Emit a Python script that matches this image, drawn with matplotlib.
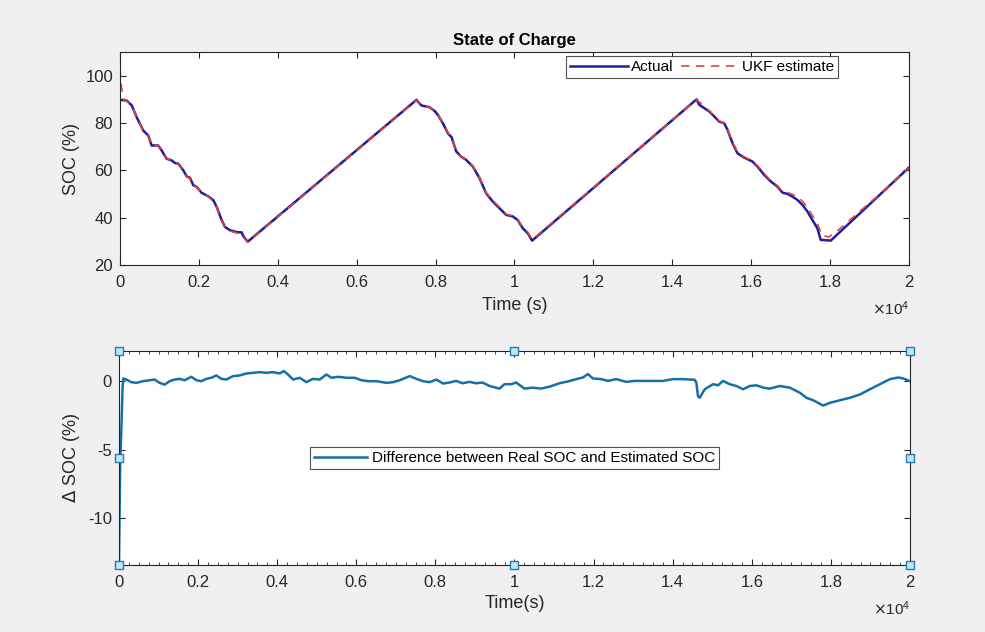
import numpy as np
import matplotlib.pyplot as plt
from matplotlib.ticker import FuncFormatter, MultipleLocator

# Actual SOC (time in s, SOC in %)
t_act = [0, 170, 300, 422, 591, 718, 803, 972, 1056, 1183, 1309, 1394, 1478, 1605, 1690,
         1774, 1859, 1943, 2070, 2239, 2366, 2450, 2577, 2661, 2788, 2957, 3084, 3126, 3236,
         7518, 7560, 7645, 7840, 7983, 8068, 8195, 8322, 8406, 8523, 8650, 8776, 8945, 9114,
         9283, 9451, 9620, 9789, 9958, 10084, 10211, 10338, 10447,
         14616, 14684, 14810, 14937, 15063, 15190, 15316, 15400, 15527, 15654, 15780, 15907,
         16034, 16160, 16329, 16498, 16667, 16793, 16920, 17046, 17173, 17300, 17426, 17553,
         17679, 17764, 18017, 20000]
soc_act = [89.8, 89.5, 87.4, 82.5, 76.8, 74.7, 70.5, 70.5, 68.4, 64.9, 64.2, 63.1, 62.8, 60.0, 57.5,
           56.8, 53.7, 53.0, 50.5, 49.0, 47.4, 44.6, 39.0, 36.1, 34.7, 33.9, 33.8, 32.2, 29.8,
           89.8, 88.8, 87.4, 86.7, 85.0, 83.2, 79.6, 75.4, 74.0, 68.0, 65.8, 64.4, 61.6, 56.7,
           50.3, 46.8, 44.0, 41.2, 40.5, 39.0, 35.5, 33.4, 30.3,
           90.0, 87.7, 86.3, 84.9, 82.8, 80.6, 79.9, 77.1, 71.5, 67.2, 65.8, 64.7,
           63.7, 61.6, 58.1, 55.3, 53.1, 50.6, 50.0, 48.9, 47.5, 45.4, 42.6, 39.0,
           35.5, 30.6, 30.3, 61.2]

# UKF estimate
t_est = [0, 30, 60, 100, 150, 300, 422, 591, 718, 803, 972, 1056, 1183, 1309, 1394, 1478, 1605,
         1690, 1774, 1859, 1943, 2070, 2239, 2366, 2450, 2577, 2661, 2788, 2957, 3084, 3126, 3236,
         7518, 7560, 7645, 7840, 7983, 8068, 8195, 8322, 8406, 8523, 8650, 8776, 8945, 9114,
         9283, 9451, 9620, 9789, 9958, 10084, 10211, 10338, 10447,
         14616, 14684, 14810, 14937, 15063, 15190, 15316, 15400, 15527, 15654, 15780, 15907,
         16034, 16160, 16329, 16498, 16667, 16793, 16920, 17046, 17173, 17300, 17426, 17553,
         17679, 17806, 17975, 18228, 18481, 18734, 18987, 19241, 20000]
soc_est = [103.0, 96.0, 93.3, 89.8, 89.6, 87.3, 82.4, 76.7, 74.5, 70.3, 70.6, 68.5, 65.1, 64.0, 63.0,
           62.7, 59.8, 57.3, 56.5, 53.5, 52.9, 50.4, 48.8, 47.0, 44.4, 38.8, 35.9, 34.4, 33.5,
           33.3, 31.8, 29.6,
           89.6, 88.6, 87.4, 86.6, 85.0, 83.3, 79.7, 75.7, 74.2, 68.0, 65.9, 64.5, 61.8, 56.9,
           50.6, 47.2, 44.5, 41.5, 40.7, 39.1, 36.0, 33.9, 30.7,
           89.9, 88.9, 86.9, 85.2, 83.0, 80.9, 79.9, 77.3, 71.8, 67.8, 66.1, 65.0,
           64.0, 62.0, 58.6, 55.6, 53.5, 51.1, 50.6, 49.8, 48.9, 47.0, 44.3, 40.9,
           37.4, 32.3, 31.9, 35.0, 38.7, 42.4, 46.0, 49.6, 61.2]

# Difference between real SOC and estimated SOC
t_diff = [0, 30, 60, 90, 110, 185, 312, 438, 607, 776, 902, 1028, 1155, 1281, 1408, 1534, 1660,
          1829, 1956, 2082, 2208, 2335, 2461, 2588, 2714, 2883, 3052, 3220, 3389, 3558, 3726,
          3895, 4064, 4165, 4274, 4401, 4569, 4738, 4906, 5075, 5244, 5370, 5539, 5749, 5960,
          6129, 6297, 6508, 6761, 6930, 7099, 7352, 7520, 7688, 7857, 8025, 8194, 8354, 8523,
          8692, 8861, 9030, 9198, 9367, 9620, 9747, 9916, 10042, 10253, 10464, 10675, 10886,
          11139, 11350, 11561, 11730, 11857, 11983, 12194, 12363, 12574, 12827, 13038, 13249,
          13502, 13755, 14008, 14262, 14557, 14599, 14641, 14684, 14810, 15021, 15148, 15274,
          15443, 15612, 15781, 15949, 16118, 16287, 16456, 16709, 16962, 17215, 17384, 17553,
          17679, 17806, 17975, 18228, 18481, 18734, 18987, 19241, 19494, 19705, 19831, 19983]
d_soc = [-13.2, -6.0, -3.5, -0.5, 0.2, 0.12, -0.07, -0.12, 0.0, 0.07, 0.12, -0.12, -0.25, 0.0, 0.12,
         0.17, 0.07, 0.32, 0.07, 0.0, 0.17, 0.25, 0.42, 0.17, 0.12, 0.37, 0.42, 0.56, 0.61, 0.66,
         0.61, 0.66, 0.56, 0.74, 0.49, 0.12, 0.25, -0.07, 0.17, 0.12, 0.49, 0.25, 0.32, 0.25, 0.25,
         0.07, 0.0, 0.0, -0.12, -0.07, 0.07, 0.37, 0.17, 0.0, -0.07, 0.12, -0.17, -0.1, 0.02,
         -0.15, -0.05, -0.15, -0.1, -0.35, -0.54, -0.22, -0.22, -0.1, -0.54, -0.47, -0.54, -0.4,
         -0.15, -0.02, 0.15, 0.27, 0.52, 0.2, 0.15, 0.02, 0.15, -0.05, 0.02, 0.02,
         0.02, 0.02, 0.15, 0.15, 0.1, -0.1, -1.09, -1.21, -0.59, -0.22, -0.3, 0.02,
         -0.22, -0.35, -0.59, -0.35, -0.3, -0.47, -0.54, -0.35, -0.47, -0.84, -1.21, -1.39,
         -1.58, -1.78, -1.58, -1.39, -1.21, -0.97, -0.59, -0.22, 0.15, 0.27, 0.2, 0.02]

plt.rcParams['font.family'] = ['Liberation Sans', 'DejaVu Sans']
plt.rcParams['axes.unicode_minus'] = False
txt = '#262626'
bg = '#f0f0f0'

fig = plt.figure(figsize=(9.85, 6.32), dpi=100, facecolor=bg)
ax1 = fig.add_axes([0.1218, 0.5807, 0.801, 0.337])
ax2 = fig.add_axes([0.1208, 0.106, 0.803, 0.3386])

xfmt = FuncFormatter(lambda v, p: '%g' % (v / 1e4))

def style(ax):
    ax.set_xlim(0, 20000)
    ax.xaxis.set_major_locator(MultipleLocator(2000))
    ax.xaxis.set_major_formatter(xfmt)
    ax.tick_params(direction='in', top=True, right=True, labelsize=12, colors=txt,
                   length=4, width=0.8)
    ax.tick_params(axis='x', pad=7)
    ax.tick_params(axis='y', pad=5)
    for s in ax.spines.values():
        s.set_color(txt)
        s.set_linewidth(0.8)
    ax.text(1.0, -0.16, r'$\times\mathregular{10^4}$', transform=ax.transAxes,
            ha='right', va='top', fontsize=11, color=txt)

# top panel
ax1.plot(t_act, soc_act, color='#1f1f9e', lw=1.8, label='Actual')
ax1.plot(t_est, soc_est, color='#e8403c', lw=1.2, ls=(0, (5, 4)), label='UKF estimate')
style(ax1)
ax1.set_ylim(20, 110)
ax1.set_yticks([20, 40, 60, 80, 100])
ax1.set_title('State of Charge', fontsize=12, fontweight='bold', color='black', pad=5)
ax1.set_xlabel('Time (s)', fontsize=13, color=txt, labelpad=5)
ax1.set_ylabel('SOC (%)', fontsize=13, color=txt, labelpad=4)
leg1 = ax1.legend(loc='upper right', bbox_to_anchor=(0.914, 0.995), ncol=2, fontsize=11,
                  frameon=True, fancybox=False, borderpad=0.25, handlelength=3.8,
                  columnspacing=0.5, handletextpad=0.2, borderaxespad=0.2)
leg1.get_frame().set_edgecolor(txt)
leg1.get_frame().set_linewidth(0.8)

# bottom panel
ax2.plot(t_diff, d_soc, color='#1570a8', lw=1.8,
         label='Difference between Real SOC and Estimated SOC')
style(ax2)
ax2.set_ylim(-13.4, 2.2)
ax2.set_yticks([-10, -5, 0])
ax2.xaxis.set_minor_locator(MultipleLocator(250))
ax2.tick_params(which='minor', direction='in', top=True, length=2.5, colors=txt)
ax2.set_xlabel('Time(s)', fontsize=13, color=txt, labelpad=4)
ax2.set_ylabel('$\\Delta$ SOC (%)', fontsize=13, color=txt, labelpad=4)
leg2 = ax2.legend(loc='center', bbox_to_anchor=(0.5, 0.50), fontsize=11, frameon=True,
                  fancybox=False, borderpad=0.25, handlelength=3.5, handletextpad=0.3)
leg2.get_frame().set_edgecolor(txt)
leg2.get_frame().set_linewidth(0.8)

# selection handles on the bottom axes
hx = [0, 0.5, 1, 0, 1, 0, 0.5, 1]
hy = [1, 1, 1, 0.5, 0.5, 0, 0, 0]
ax2.scatter(hx, hy, transform=ax2.transAxes, marker='s', s=40, facecolor='#bfe6f7',
            edgecolor='#2a7ab0', linewidth=1, clip_on=False, zorder=5)

fig.savefig('out.png', dpi=100, facecolor=bg)
